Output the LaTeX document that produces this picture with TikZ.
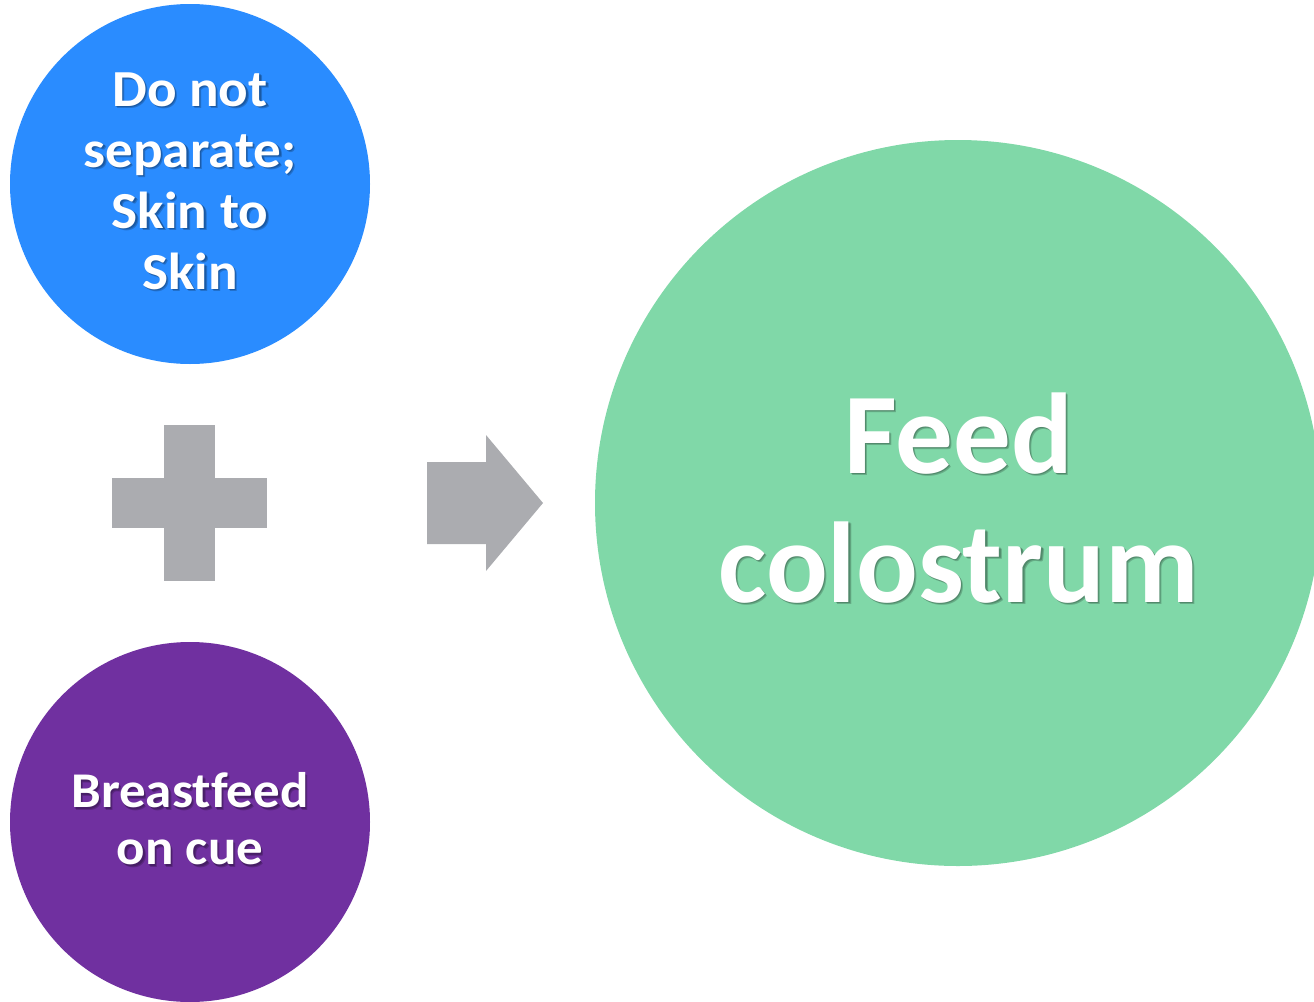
\documentclass[tikz,border=0pt]{standalone}
\usepackage{fontspec}
\setmainfont{Carlito}[Ligatures=CommonOff]
\newfontfamily\widecarlito{Carlito}[Ligatures=CommonOff, FakeStretch=1.06]
\definecolor{skinblue}{HTML}{2A8CFF}
\definecolor{cuepurple}{HTML}{7030A0}
\definecolor{feedgreen}{HTML}{80D8A8}
\definecolor{signgray}{HTML}{ABACB0}
\tikzset{
  bubble/.style={circle, inner sep=0pt, draw=none},
  caption/.style={align=center, inner sep=0pt, text=white},
  captionshade/.style={align=center, inner sep=0pt, text=black, opacity=0.2},
  sign/.style={fill=signgray, draw=none}
}
% white bold label with a soft drop shadow: name, position, font, text
\newcommand\shadedlabel[4]{%
  \node[captionshade, font={#3}] (#1s1) at ([xshift=1.5pt,yshift=-1.5pt]#2) {#4};
  \node[captionshade, font={#3}] (#1s2) at ([xshift=2.5pt,yshift=-2.5pt]#2) {#4};
  \node[caption, font={#3}] (#1) at (#2) {#4};
}
\begin{document}
\begin{tikzpicture}[x=1pt,y=-1pt]
\useasboundingbox (0,0) rectangle (1314,1001);
\clip (0,0) rectangle (1314,1001);

% the three circles
\node[bubble, fill=skinblue, minimum size=360pt] (sep) at (190,184) {};
\node[bubble, fill=cuepurple, minimum size=360pt] (cue) at (190,822) {};
\node[bubble, fill=feedgreen, minimum size=726pt] (feed) at (958,503) {};

% plus sign
\fill[sign] (164,425) rectangle (215,581);
\fill[sign] (112,478) rectangle (267,528);

% block arrow
\fill[sign] (427,462) -- (486,462) -- (486,435) -- (543,503) -- (486,571)
  -- (486,544) -- (427,544) -- cycle;

% labels
\shadedlabel{septext}{190,181}{\widecarlito\bfseries\fontsize{52}{61}\selectfont}{Do not\\separate;\\Skin to\\Skin}
\shadedlabel{cuetext}{190,819}{\widecarlito\bfseries\fontsize{50}{57}\selectfont}{Breastfeed\\on cue}
\shadedlabel{feedtext}{958.5,498}{\bfseries\fontsize{115}{129}\selectfont}{Feed\\colostrum}
\end{tikzpicture}
\end{document}
